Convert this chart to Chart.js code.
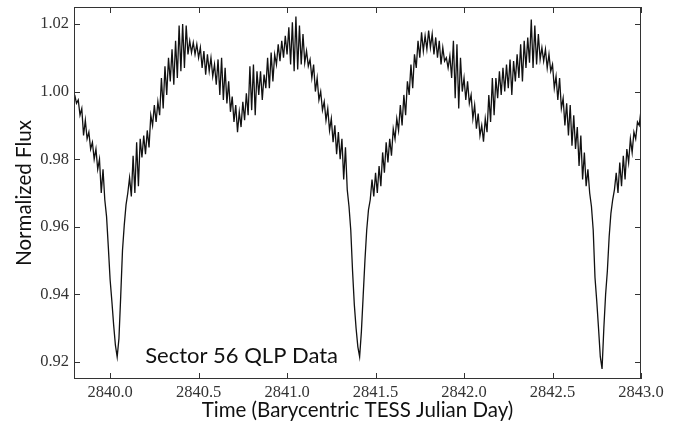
<!DOCTYPE html>
<html>
<head>
<meta charset="utf-8">
<script src="https://cdn.jsdelivr.net/npm/chart.js@4.4.1/dist/chart.umd.min.js"></script>
<style>
  html, body { margin: 0; padding: 0; background: #fff; }
  #wrap { width: 686px; height: 428px; }
</style>
</head>
<body>
<div id="wrap"><canvas id="fluxChart" width="686" height="428"></canvas></div>
<script>
// QLP light curve at a fixed cadence of 0.01 d
const timeStart = 2839.80;
const cadence = 0.01;
const flux = [
  0.9990, 0.9965, 0.9975, 0.9930, 0.9950, 0.9870, 0.9915, 0.9860, 0.9880, 0.9830,
  0.9850, 0.9800, 0.9830, 0.9770, 0.9800, 0.9700, 0.9770, 0.9680, 0.9630, 0.9540,
  0.9444, 0.9380, 0.9310, 0.9250, 0.9215, 0.9270, 0.9395, 0.9530, 0.9605, 0.9665,
  0.9700, 0.9745, 0.9690, 0.9810, 0.9700, 0.9850, 0.9720, 0.9860, 0.9805, 0.9870,
  0.9815, 0.9885, 0.9835, 0.9930, 0.9900, 0.9960, 0.9910, 0.9970, 0.9930, 1.0040,
  0.9950, 1.0075, 0.9990, 1.0100, 1.0030, 1.0125, 1.0020, 1.0150, 1.0040, 1.0195,
  1.0060, 1.0200, 1.0070, 1.0195, 1.0110, 1.0150, 1.0115, 1.0145, 1.0110, 1.0140,
  1.0100, 1.0130, 1.0070, 1.0120, 1.0050, 1.0110, 1.0060, 1.0100, 1.0045, 1.0080,
  1.0020, 1.0095, 0.9990, 1.0100, 0.9975, 1.0070, 0.9965, 1.0030, 0.9940, 0.9985,
  0.9910, 0.9960, 0.9880, 0.9940, 0.9895, 0.9970, 0.9915, 0.9995, 0.9930, 1.0075,
  0.9945, 1.0080, 0.9930, 1.0060, 0.9990, 1.0060, 0.9975, 1.0050, 1.0010, 1.0100,
  1.0010, 1.0115, 1.0030, 1.0110, 1.0080, 1.0140, 1.0090, 1.0150, 1.0100, 1.0165,
  1.0110, 1.0190, 1.0080, 1.0205, 1.0060, 1.0222, 1.0065, 1.0195, 1.0080, 1.0170,
  1.0085, 1.0120, 1.0075, 1.0095, 1.0040, 1.0080, 1.0000, 1.0040, 0.9975, 1.0000,
  0.9945, 0.9970, 0.9915, 0.9950, 0.9885, 0.9920, 0.9850, 0.9900, 0.9815, 0.9880,
  0.9800, 0.9860, 0.9740, 0.9835, 0.9710, 0.9660, 0.9590, 0.9470, 0.9370, 0.9300,
  0.9245, 0.9216, 0.9290, 0.9395, 0.9500, 0.9590, 0.9650, 0.9680, 0.9740, 0.9690,
  0.9760, 0.9700, 0.9780, 0.9720, 0.9820, 0.9760, 0.9850, 0.9790, 0.9860, 0.9810,
  0.9890, 0.9860, 0.9920, 0.9885, 0.9960, 0.9900, 0.9990, 0.9930, 1.0030, 0.9990,
  1.0080, 1.0010, 1.0110, 1.0070, 1.0150, 1.0100, 1.0175, 1.0120, 1.0165, 1.0125,
  1.0180, 1.0130, 1.0170, 1.0110, 1.0160, 1.0100, 1.0150, 1.0080, 1.0130, 1.0090,
  1.0100, 1.0070, 1.0105, 1.0040, 1.0150, 0.9980, 1.0140, 0.9950, 1.0100, 1.0000,
  1.0040, 0.9975, 1.0030, 0.9965, 0.9990, 0.9920, 0.9960, 0.9890, 0.9935, 0.9870,
  0.9900, 0.9852, 0.9920, 0.9880, 0.9990, 0.9910, 1.0040, 0.9930, 1.0040, 0.9980,
  1.0060, 0.9990, 1.0070, 1.0000, 1.0080, 1.0010, 1.0095, 0.9990, 1.0090, 1.0030,
  1.0110, 1.0040, 1.0140, 1.0030, 1.0150, 1.0070, 1.0160, 1.0085, 1.0213, 1.0070,
  1.0195, 1.0080, 1.0170, 1.0095, 1.0130, 1.0090, 1.0125, 1.0070, 1.0110, 1.0060,
  1.0080, 1.0010, 1.0045, 0.9975, 1.0040, 0.9950, 0.9980, 0.9900, 0.9965, 0.9870,
  0.9960, 0.9840, 0.9930, 0.9830, 0.9895, 0.9780, 0.9870, 0.9740, 0.9820, 0.9720,
  0.9770, 0.9700, 0.9660, 0.9590, 0.9450, 0.9380, 0.9300, 0.9216, 0.9180, 0.9300,
  0.9400, 0.9470, 0.9570, 0.9640, 0.9680, 0.9710, 0.9760, 0.9700, 0.9790, 0.9720,
  0.9810, 0.9740, 0.9830, 0.9790, 0.9860, 0.9820, 0.9880, 0.9860, 0.9910, 0.9900,
  0.9945
];

const xTicks = [2840.0, 2840.5, 2841.0, 2841.5, 2842.0, 2842.5, 2843.0];
const yTicks = [0.92, 0.94, 0.96, 0.98, 1.00, 1.02];
const xRange = [2839.796, 2843.0];
const yRange = [0.915, 1.025];
const label = 'Sector 56 QLP Data';
const labelAt = [2840.198, 0.9198];

const points = flux.map((f, i) => ({ x: timeStart + i * cadence, y: f }));

const frameColor = '#333';
const tickFont = { family: 'Liberation Serif', size: 16.5 };
const titleFont = { family: 'Lato', size: 20.5 };

// inward ticks on all four sides + box + text label
const framePlugin = {
  id: 'frame',
  afterDraw(chart) {
    const { ctx, chartArea: a, scales } = chart;
    const len = 6;
    ctx.save();
    ctx.strokeStyle = frameColor;
    ctx.lineWidth = 1;
    ctx.strokeRect(a.left + 0.5, a.top + 0.5, a.right - a.left - 1, a.bottom - a.top - 1);
    ctx.beginPath();
    xTicks.forEach(v => {
      const px = Math.round(scales.x.getPixelForValue(v)) + 0.5;
      ctx.moveTo(px, a.bottom); ctx.lineTo(px, a.bottom - len);
      ctx.moveTo(px, a.top); ctx.lineTo(px, a.top + len);
    });
    yTicks.forEach(v => {
      const py = Math.round(scales.y.getPixelForValue(v)) + 0.5;
      ctx.moveTo(a.left, py); ctx.lineTo(a.left + len, py);
      ctx.moveTo(a.right, py); ctx.lineTo(a.right - len, py);
    });
    ctx.stroke();

    ctx.fillStyle = '#111';
    ctx.font = '22px Lato';
    ctx.textBaseline = 'alphabetic';
    ctx.fillText(label, scales.x.getPixelForValue(labelAt[0]), scales.y.getPixelForValue(labelAt[1]));
    ctx.restore();
  }
};

new Chart(document.getElementById('fluxChart').getContext('2d'), {
  type: 'scatter',
  data: {
    datasets: [{
      data: points,
      showLine: true,
      pointRadius: 0,
      borderColor: '#111',
      borderWidth: 1.3,
      tension: 0
    }]
  },
  options: {
    responsive: false,
    animation: false,
    devicePixelRatio: 1,
    layout: { padding: { left: 0, right: 45, top: 7, bottom: 0 } },
    plugins: { legend: { display: false }, tooltip: { enabled: false } },
    scales: {
      x: {
        type: 'linear',
        min: xRange[0],
        max: xRange[1],
        afterBuildTicks: s => { s.ticks = xTicks.map(v => ({ value: v })); },
        afterFit: s => { s.height = 49; },
        grid: { display: false, drawTicks: false },
        border: { display: false },
        ticks: { font: tickFont, color: '#333', padding: 4, maxRotation: 0, autoSkip: false,
                 callback: v => v.toFixed(1) },
        title: { display: true, text: 'Time (Barycentric TESS Julian Day)', font: titleFont,
                 color: '#111', padding: { top: 0, bottom: 5 } }
      },
      y: {
        type: 'linear',
        min: yRange[0],
        max: yRange[1],
        afterBuildTicks: s => { s.ticks = yTicks.map(v => ({ value: v })); },
        afterFit: s => { s.width = 74; s.paddingTop = 0; s.paddingBottom = 0; },
        grid: { display: false, drawTicks: false },
        border: { display: false },
        ticks: { font: tickFont, color: '#333', padding: 5, autoSkip: false,
                 callback: v => v.toFixed(2) },
        title: { display: true, text: 'Normalized Flux', font: titleFont,
                 color: '#111', padding: { top: 12, bottom: 0 } }
      }
    }
  },
  plugins: [framePlugin]
});
</script>
</body>
</html>
